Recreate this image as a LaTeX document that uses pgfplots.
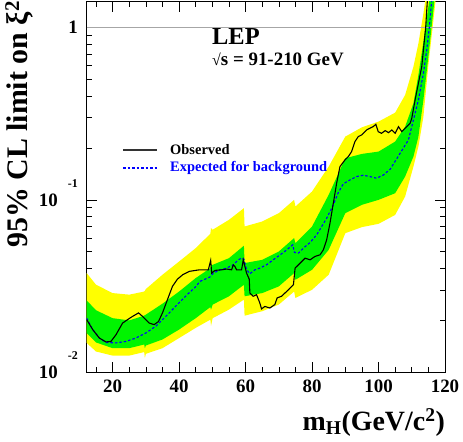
\documentclass[border=0pt]{standalone}
\usepackage{fontspec}
\setmainfont{Liberation Serif}
\usepackage{pgfplots}
\pgfplotsset{compat=1.18}
\usepgfplotslibrary{fillbetween}
\usepackage{pgfplotstable}

\definecolor{rootyellow}{RGB}{255,255,0}
\definecolor{rootgreen}{RGB}{0,245,0}
\definecolor{rootblue}{RGB}{0,0,255}

% 1 and 2 sigma bands: upper yellow, upper green, lower green, lower yellow
\pgfplotstableread{
x     yu      gu      gl      yl
12.2  0.0376  0.0261  0.0169  0.0148
15.0  0.0322  0.0229  0.0149  0.0132
20.0  0.0288  0.0206  0.0138  0.0125
25.0  0.0282  0.0200  0.0138  0.0125
29.5  0.0294  0.0213  0.0145  0.0131
29.7  0.0297  0.0215  0.0138  0.0121
30.0  0.0304  0.0216  0.0143  0.0128
35.0  0.0368  0.0250  0.0155  0.0138
40.0  0.0439  0.0294  0.0177  0.0158
45.0  0.0525  0.0352  0.0206  0.0181
49.4  0.0636  0.0402  0.0239  0.0202
49.6  0.0686  0.0420  0.0231  0.0186
50.1  0.0671  0.0420  0.0247  0.0206
55.0  0.0766  0.0459  0.0276  0.0231
59.5  0.0895  0.0542  0.0322  0.0264
59.7  0.0701  0.0430  0.0276  0.0213
65.0  0.0749  0.0449  0.0288  0.0226
70.0  0.0837  0.0502  0.0315  0.0247
74.6  0.1000  0.0600  0.0376  0.0294
75.0  0.0915  0.0561  0.0344  0.0270
80.0  0.1118  0.0701  0.0393  0.0301
85.0  0.1560  0.1069  0.0513  0.0368
90.0  0.2327  0.1743  0.0837  0.0641
95.0  0.2635  0.1847  0.0936  0.0695
100.0 0.2843  0.1905  0.1000  0.0726
105.0 0.3205  0.2177  0.1093  0.0818
108.0 0.4055  0.2659  0.1365  0.1045
110.5 0.5919  0.3630  0.1782  0.1560
112.0 0.8077  0.5295  0.2327  0.2037
113.5 1.205   0.8260  0.3795  0.3039
115.0 1.880   1.317   0.6762  0.6051
116.3 2.805   1.965   1.153   1.009
117.5 4.573   3.065   1.880   1.645
}\bands

\pgfplotstableread{
x     e
12.2  0.0206
14.0  0.0177
16.0  0.0158
18.0  0.0149
21.0  0.0148
24.0  0.0151
27.0  0.0158
30.0  0.0169
33.0  0.0185
36.0  0.0211
39.1  0.0243
42.1  0.0278
45.1  0.0315
46.3  0.0337
49.3  0.0357
50.3  0.0376
52.3  0.0393
54.3  0.0402
56.3  0.0420
57.8  0.0449
58.8  0.0459
59.5  0.0453
60.3  0.0393
61.3  0.0373
62.8  0.0393
64.3  0.0402
66.3  0.0420
68.3  0.0449
70.4  0.0480
72.4  0.0513
74.2  0.0549
74.7  0.0496
75.9  0.0491
77.4  0.0525
79.4  0.0566
81.4  0.0627
84.4  0.0783
86.4  0.0936
87.9  0.1103
89.4  0.1238
91.4  0.1305
93.4  0.1365
95.4  0.1389
97.4  0.1365
99.4  0.1335
101.5 0.1395
103.5 0.1505
106.0 0.1798
109.0 0.2226
110.5 0.2905
112.0 0.3795
113.5 0.5415
114.5 0.7390
115.3 1.009
116.0 1.440
116.7 2.055
}\expected

\pgfplotstableread{
x     o
12.2  0.0202
14.0  0.0177
16.0  0.0158
18.0  0.0150
19.5  0.0151
21.0  0.0165
23.0  0.0193
24.5  0.0202
26.0  0.0211
27.8  0.0221
29.0  0.0211
30.0  0.0202
31.0  0.0193
32.5  0.0189
33.8  0.0197
35.0  0.0221
36.5  0.0264
38.0  0.0315
39.5  0.0347
41.1  0.0368
43.1  0.0385
46.1  0.0393
48.8  0.0393
49.5  0.0445
49.8  0.0376
50.8  0.0390
52.8  0.0393
54.3  0.0397
55.8  0.0393
56.3  0.0420
56.8  0.0411
57.3  0.0393
58.8  0.0393
59.3  0.0449
59.8  0.0411
60.3  0.0376
61.1  0.0347
61.3  0.0288
62.3  0.0276
63.3  0.0282
64.3  0.0252
64.8  0.0233
65.8  0.0241
67.3  0.0236
68.8  0.0247
69.5  0.0270
70.8  0.0276
72.9  0.0301
74.4  0.0322
74.9  0.0402
75.9  0.0420
77.9  0.0459
79.4  0.0449
80.9  0.0470
82.4  0.0480
83.4  0.0513
84.4  0.0587
85.4  0.0733
86.4  0.0957
87.4  0.1249
88.4  0.1560
89.9  0.1705
90.9  0.1782
91.9  0.1905
92.9  0.2177
93.9  0.2327
94.9  0.2379
96.4  0.2543
97.4  0.2601
98.4  0.2659
99.2  0.2743
99.9  0.2487
100.9 0.2433
102.0 0.2520
103.0 0.2454
104.0 0.2543
105.0 0.2433
106.0 0.2659
107.0 0.2487
108.5 0.2659
109.5 0.2780
110.0 0.2972
111.0 0.3795
112.0 0.4740
113.0 0.5919
113.5 0.7390
114.2 1.009
114.7 1.440
115.5 2.246
}\observed

\begin{document}
\begin{tikzpicture}
\begin{axis}[
  scale only axis,
  width=358.3bp, height=370.6bp,
  ymode=log,
  xmin=12.2, xmax=120, ymin=0.01, ymax=1.41,
  xtick={20,40,60,80,100,120},
  xticklabels={20,40,60,80,100,120},
  minor xtick={15,20,...,120},
  ytick={0.01,0.1,1},
  yticklabels={
    {10\hspace{10bp}\raisebox{19bp}[0pt][0pt]{\fontsize{12}{12}\selectfont -2}},
    {10\hspace{10bp}\raisebox{19bp}[0pt][0pt]{\fontsize{12}{12}\selectfont -1}},
    {1\hspace{13bp}}},
  minor ytick={0.02,0.03,0.04,0.05,0.06,0.07,0.08,0.09,0.2,0.3,0.4,0.5,0.6,0.7,0.8,0.9},
  xtick pos=both, ytick pos=both,
  tick align=inside,
  major tick length=10bp, minor tick length=5.5bp,
  every tick/.style={black, line width=0.6pt},
  axis line style={line width=0.8pt},
  xticklabel style={font=\fontsize{19}{19}\selectfont\bfseries, anchor=north, inner sep=0pt, yshift=-7.7bp},
  yticklabel style={font=\fontsize{19}{19}\selectfont\bfseries, anchor=east, inner sep=0pt, xshift=-8.7bp},
]
\addplot[gray!70, line width=0.6pt] coordinates {(12.2,1) (120,1)};
\addplot[name path=yu, draw=none] table[x=x, y=yu]{\bands};
\addplot[name path=yl, draw=none] table[x=x, y=yl]{\bands};
\addplot[name path=gu, draw=none] table[x=x, y=gu]{\bands};
\addplot[name path=gl, draw=none] table[x=x, y=gl]{\bands};
\addplot[rootyellow, draw=none] fill between[of=yu and yl];
\addplot[rootgreen, draw=none] fill between[of=gu and gl];
\addplot[rootblue, line width=1.1pt, dash pattern=on 2.5bp off 2bp] table[x=x, y=e]{\expected};
\addplot[black, line width=1.1pt] table[x=x, y=o]{\observed};
\end{axis}
% titles and legend, in bp from the lower left corner of the axis box
\node[anchor=base west, inner sep=0pt, font=\fontsize{24.5}{24.5}\selectfont\bfseries] at (125.3bp,327.5bp) {LEP};
\node[anchor=base west, inner sep=0pt, font=\fontsize{19}{19}\selectfont\bfseries] at (125.3bp,307bp) {{\fontsize{16}{16}\selectfont √}s = 91-210 GeV};
\draw[black!80, line width=1.3pt] (36.3bp,222.3bp) -- (70.3bp,222.3bp);
\draw[rootblue, line width=1.1pt, dash pattern=on 2.5bp off 2bp] (36.3bp,204.3bp) -- (70.3bp,204.3bp);
\node[anchor=base west, inner sep=0pt, font=\fontsize{14.5}{14.5}\selectfont\bfseries] at (83.3bp,217.3bp) {Observed};
\node[anchor=base west, inner sep=0pt, text=rootblue, font=\fontsize{14.5}{14.5}\selectfont\bfseries] at (83.3bp,200.3bp) {Expected for background};
\node[rotate=90, anchor=base east, inner sep=0pt, font=\fontsize{30}{30}\selectfont\bfseries] at (-58.7bp,371.5bp) {95\% CL limit on ξ\textsuperscript{2}};
\node[anchor=base east, inner sep=0pt, font=\fontsize{28}{28}\selectfont\bfseries] at (358.3bp,-57.7bp) {m\textsubscript{H}(GeV/c\textsuperscript{2})};
\pgfresetboundingbox
\useasboundingbox (-86.7bp,-69.7bp) rectangle (376.3bp,372.3bp);
\end{tikzpicture}
\end{document}
